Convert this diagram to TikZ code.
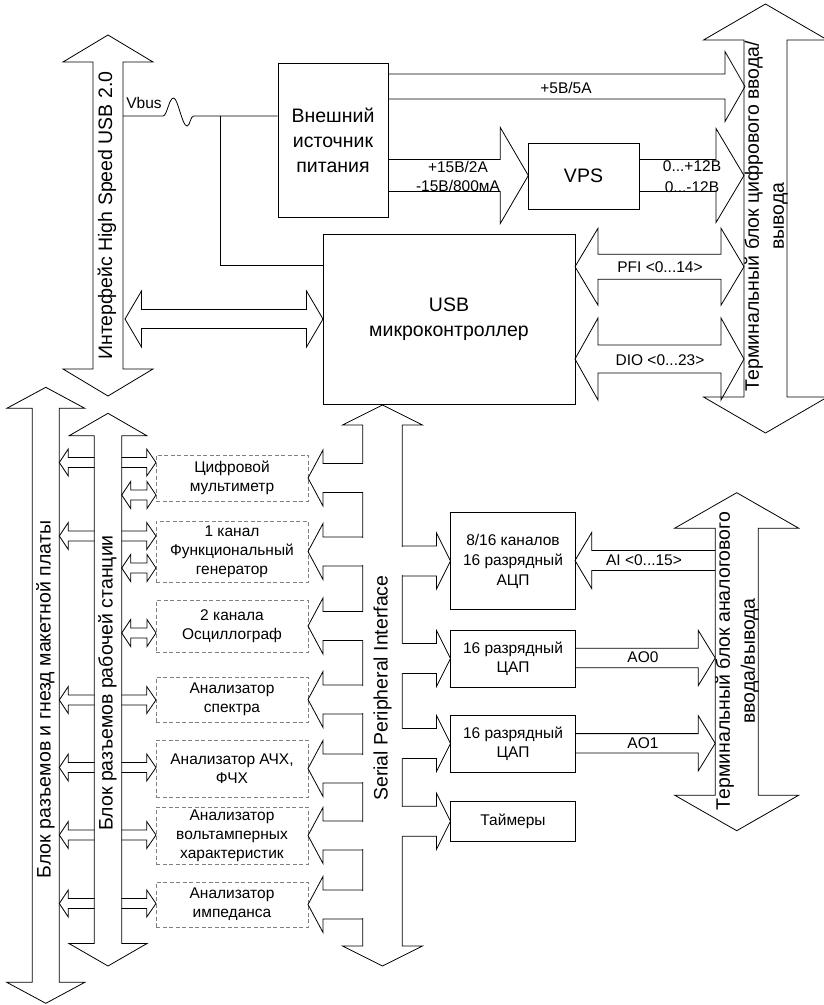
\documentclass[tikz,border=0pt]{standalone}
\usepackage{fontspec}
\setmainfont{Liberation Sans}
\definecolor{dgray}{RGB}{128,128,128}
\tikzset{
  ln/.style={line width=0.8pt, line join=miter},
  big/.style={font=\fontsize{19.5}{25}\selectfont, align=center, inner sep=0pt},
  sm/.style={font=\fontsize{15.5}{19}\selectfont, align=center, inner sep=0pt},
  blkbox/.style={draw, line width=0.8pt, inner sep=0pt},
  ibox/.style={draw=dgray, dash pattern=on 4pt off 2.5pt, line width=0.8pt, inner sep=0pt,
    minimum width=152pt, font=\fontsize{15.5}{19}\selectfont, align=center}
}
% right-pointing arrow: tail x, tip x, yc, shaft half, head half, head length
\newcommand\RArr[6]{\draw[ln] (#1,{#3-#4}) -- ({#2-#6},{#3-#4}) -- ({#2-#6},{#3-#5}) -- (#2,#3) -- ({#2-#6},{#3+#5}) -- ({#2-#6},{#3+#4}) -- (#1,{#3+#4});}
% left-pointing arrow: tip x, tail x, yc, shaft half, head half, head length
\newcommand\LArr[6]{\draw[ln] (#2,{#3-#4}) -- ({#1+#6},{#3-#4}) -- ({#1+#6},{#3-#5}) -- (#1,#3) -- ({#1+#6},{#3+#5}) -- ({#1+#6},{#3+#4}) -- (#2,{#3+#4});}
% double horizontal arrow
\newcommand\LRArr[6]{\draw[ln] (#1,#3) -- ({#1+#6},{#3-#5}) -- ({#1+#6},{#3-#4}) -- ({#2-#6},{#3-#4}) -- ({#2-#6},{#3-#5}) -- (#2,#3) -- ({#2-#6},{#3+#5}) -- ({#2-#6},{#3+#4}) -- ({#1+#6},{#3+#4}) -- ({#1+#6},{#3+#5}) -- cycle;}
% double vertical arrow: xc, top, bottom, shaft half, head half, head length
\newcommand\UDArr[6]{\draw[ln] (#1,#2) -- ({#1+#5},{#2+#6}) -- ({#1+#4},{#2+#6}) -- ({#1+#4},{#3-#6}) -- ({#1+#5},{#3-#6}) -- (#1,#3) -- ({#1-#5},{#3-#6}) -- ({#1-#4},{#3-#6}) -- ({#1-#4},{#2+#6}) -- ({#1-#5},{#2+#6}) -- cycle;}
% gap in a vertical bus line
\newcommand\Gap[3]{\fill[white] ({#1-1},{#2-#3+0.7}) rectangle ({#1+1},{#2+#3-0.7});}
\begin{document}
\begin{tikzpicture}[x=1pt,y=-1pt]
\useasboundingbox[fill=white] (0,0) rectangle (823,1005);

% ---------- blocks ----------
\node[blkbox, big, minimum width=110pt, minimum height=154pt] (pwr) at (333,140) {Внешний\\источник\\питания};
\node[blkbox, big, minimum width=252pt, minimum height=170pt] (mcu) at (449,319) {USB\\микроконтроллер};
\node[blkbox, big, minimum width=111pt, minimum height=66pt] (vps) at (583.5,176) {VPS};
\node[blkbox, sm, minimum width=125pt, minimum height=97pt, font=\fontsize{15.5}{20}\selectfont] (adc) at (513,561) {8/16 каналов\\16 разрядный\\АЦП};
\node[blkbox, sm, minimum width=125pt, minimum height=56.5pt] (dac1) at (513,659) {16 разрядный\\ЦАП};
\node[blkbox, sm, minimum width=125pt, minimum height=56.5pt] (dac2) at (513,744) {16 разрядный\\ЦАП};
\node[blkbox, sm, minimum width=125pt, minimum height=39.5pt] (tmr) at (513,821.3) {Таймеры};

\node[ibox, minimum height=46pt] (i1) at (232,478) {Цифровой\\мультиметр};
\node[ibox, minimum height=61pt] (i2) at (232,551.5) {1 канал\\Функциональный\\генератор};
\node[ibox, minimum height=52pt] (i3) at (232,626) {2 канала\\Осциллограф};
\node[ibox, minimum height=45pt] (i4) at (232,699.5) {Анализатор\\спектра};
\node[ibox, minimum height=57pt] (i5) at (232,768.5) {Анализатор АЧХ,\\ФЧХ};
\node[ibox, minimum height=57pt] (i6) at (232,835.5) {Анализатор\\вольтамперных\\характеристик};
\node[ibox, minimum height=45pt] (i7) at (232,904.5) {Анализатор\\импеданса};

% ---------- USB bus ----------
\UDArr{108}{35}{396}{15}{45}{27}
\node[big, rotate=90] (usbl) at (107,215.5) {Интерфейс High Speed USB 2.0};
\node[sm] (vbus) at (144,102.5) {Vbus};
\draw[ln] (123,116) -- (163,116) .. controls (167,116) and (169,98) .. (173.5,98)
  .. controls (178,98) and (182,126) .. (187,126) .. controls (190,126) and (190.5,116) .. (193.5,116) -- (pwr.west |- 0,116);
\draw[ln] (220,116) -- (220,265) -- (mcu.west |- 0,265);
\LRArr{125}{323}{319}{9.5}{28}{16.5}

% ---------- power ----------
\RArr{388}{745}{86.5}{12.5}{35}{20}
\node[sm] at (566,87.5) {+5В/5А};
\RArr{388}{528.3}{175.5}{16}{48}{28}
\node[sm] at (458,166.7) {+15В/2А};
\node[sm] at (458,185.7) {-15В/800мА};
\RArr{639}{744}{175.5}{16}{47}{28}
\node[sm] at (692,165.7) {0...+12В};
\node[sm] at (692,186.7) {0...-12В};

% ---------- digital terminal ----------
\UDArr{765.5}{4}{433}{21.5}{62}{36}
\LRArr{575}{744}{266.7}{12.5}{38.5}{23}
\node[sm] at (660,266.7) {PFI <0...14>};
\LRArr{575}{744}{359}{14}{41}{23}
\node[sm] at (660,360) {DIO <0...23>};
\node[big, rotate=90] (dterm) at (766,216) {Терминальный блок цифрового ввода/\\вывода};

% ---------- SPI bus ----------
\UDArr{382.5}{405}{966}{19.75}{40}{20}
\foreach \y in {478,551.5,626,699.5,768.5,835.5,904.5}{
  \Gap{362.75}{\y}{14.5}
  \LArr{308}{362.75}{\y}{14.5}{28}{15}
}
\foreach \y in {561,658.5,743.5,821.3}{
  \Gap{402.25}{\y}{15}
  \RArr{402.25}{450.5}{\y}{15}{28}{14}
}
\node[big, rotate=90, anchor=west] (spil) at (382.5,801) {Serial Peripheral Interface};

% ---------- analog terminal ----------
\UDArr{736.7}{492.7}{830.7}{21.5}{62}{35.5}
\LArr{575}{715.2}{560.5}{10}{28}{16.7}
\node[sm] at (644,560) {AI <0...15>};
\RArr{575.5}{715.2}{658}{9.7}{27.7}{17}
\node[sm] at (643,657.3) {AO0};
\RArr{575.5}{715.2}{743.3}{9.7}{27.7}{17}
\node[sm] at (643,743) {AO1};
\node[big, rotate=90] (aterm) at (737,661) {Терминальный блок аналогового\\ввода/вывода};

% ---------- left buses ----------
\UDArr{45.8}{387.3}{1003.3}{13.5}{39}{21}
\UDArr{108}{413.3}{966}{13.7}{39}{22.5}
\node[big, rotate=90] (outl) at (45.5,699.5) {Блок разъемов и гнезд макетной платы};
\node[big, rotate=90] (innl) at (107.5,683) {Блок разъемов рабочей станции};
\foreach \y in {462.5,536,700,767.5,835,903.5}{
  \LArr{59.3}{94.3}{\y}{5}{13.5}{9}
  \RArr{121.7}{156}{\y}{5}{13.5}{9.3}
}
\foreach \y in {495,568,633}{
  \LRArr{121.7}{156}{\y}{5}{13.5}{9}
}
\end{tikzpicture}
\end{document}
